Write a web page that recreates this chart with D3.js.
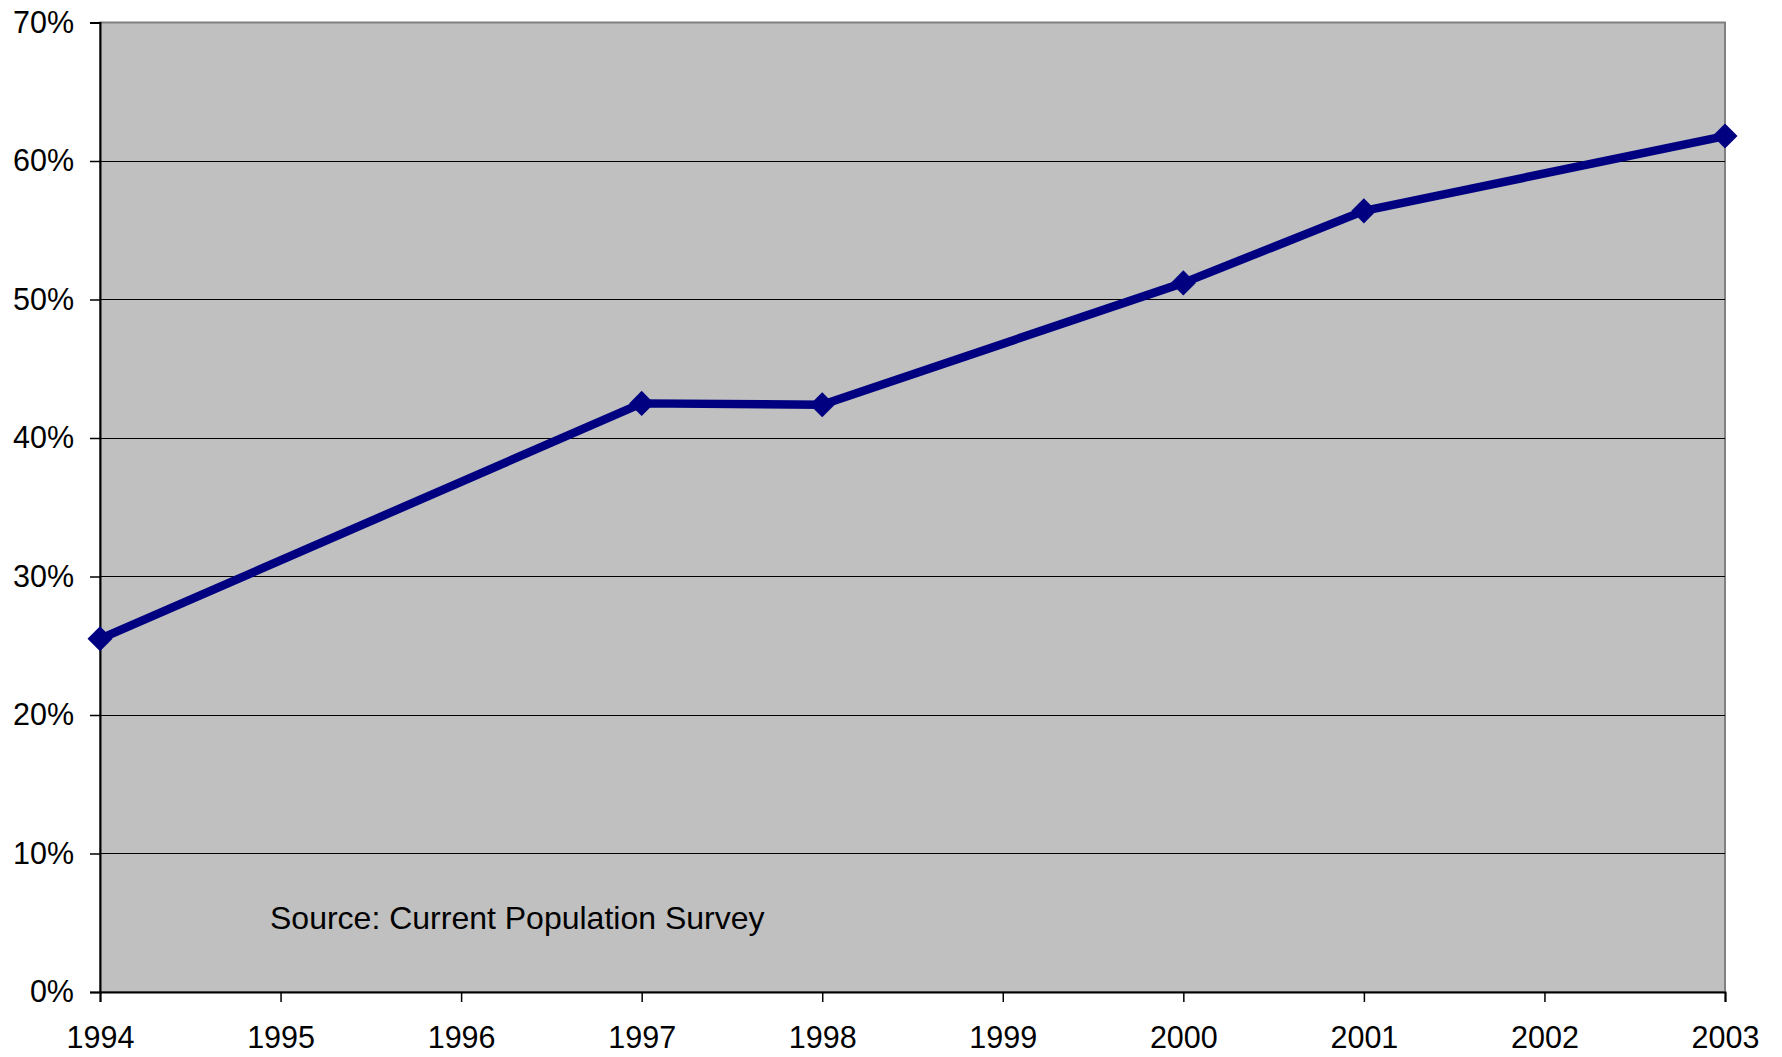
<!DOCTYPE html>
<html>
<head>
<meta charset="utf-8">
<script src="https://cdn.jsdelivr.net/npm/d3@7"></script>
<style>
  body { margin: 0; background: #fff; }
  text { font-family: "Liberation Sans", Arial, sans-serif; fill: #000; }
</style>
</head>
<body>
<script>
var years = [1994, 1997, 1998, 2000, 2001, 2003];
var shares = [0.255, 0.425, 0.424, 0.512, 0.564, 0.618];
var xTicks = [1994, 1995, 1996, 1997, 1998, 1999, 2000, 2001, 2002, 2003];
var yTicks = [0, 0.1, 0.2, 0.3, 0.4, 0.5, 0.6, 0.7];
var note = 'Source: Current Population Survey';

var w = 1782,
	h = 1057,
	plotLeft = 100,
	plotRight = 1725,
	plotTop = 22.5,
	plotBottom = 992,
	fontSize = '30.5px';

var svg = d3.select('body')
	.append('svg')
	.attr('width', w)
	.attr('height', h);

var xScale = d3.scaleLinear()
	.domain([1994, 2003])
	.range([plotLeft, plotRight]);

var yScale = d3.scaleLinear()
	.domain([0, 0.7])
	.range([plotBottom, plotTop]);

// plot area
svg.append('rect')
	.attr('x', plotLeft)
	.attr('y', plotTop)
	.attr('width', plotRight - plotLeft)
	.attr('height', plotBottom - plotTop)
	.attr('fill', '#c0c0c0')
	.attr('stroke', '#808080')
	.attr('stroke-width', 2);

// gridlines
svg.selectAll('line.grid')
	.data(yTicks.slice(1, -1))
	.enter()
	.append('line')
	.attr('class', 'grid')
	.attr('x1', plotLeft)
	.attr('x2', plotRight)
	.attr('y1', function(d) { return Math.round(yScale(d)) + 0.5; })
	.attr('y2', function(d) { return Math.round(yScale(d)) + 0.5; })
	.attr('stroke', '#000')
	.attr('stroke-width', 1);

var yAxis = d3.axisLeft(yScale)
	.tickValues(yTicks)
	.tickFormat(d3.format('.0%'))
	.tickSize(10)
	.tickPadding(16);

var gy = svg.append('g')
	.attr('transform', 'translate(' + plotLeft + ',0)')
	.call(yAxis);
gy.select('.domain').attr('stroke', '#000').attr('stroke-width', 2);
gy.selectAll('.tick line').attr('stroke', '#000').attr('stroke-width', 1.5);
gy.selectAll('text')
	.style('font-size', fontSize)
	.style('font-family', '"Liberation Sans", Arial, sans-serif')
	.attr('fill', '#000');

var xAxis = d3.axisBottom(xScale)
	.tickValues(xTicks)
	.tickFormat(d3.format('d'))
	.tickSize(10)
	.tickPadding(24);

var gx = svg.append('g')
	.attr('transform', 'translate(0,' + plotBottom + ')')
	.call(xAxis);
gx.select('.domain').attr('stroke', '#000').attr('stroke-width', 2);
gx.selectAll('.tick line').attr('stroke', '#000').attr('stroke-width', 1.5);
gx.selectAll('text')
	.style('font-size', fontSize)
	.style('font-family', '"Liberation Sans", Arial, sans-serif')
	.attr('fill', '#000');

var points = years.map(function(y, i) { return [y, shares[i]]; });

var line = d3.line()
	.x(function(d) { return xScale(d[0]); })
	.y(function(d) { return yScale(d[1]); });

svg.append('path')
	.datum(points)
	.attr('d', line)
	.attr('fill', 'none')
	.attr('stroke', '#000080')
	.attr('stroke-width', 8.5)
	.attr('stroke-linejoin', 'round');

svg.selectAll('path.marker')
	.data(points)
	.enter()
	.append('path')
	.attr('class', 'marker')
	.attr('d', d3.symbol().type(d3.symbolDiamond2).size(400))
	.attr('transform', function(d) {
		return 'translate(' + xScale(d[0]) + ',' + yScale(d[1]) + ')';
	})
	.attr('fill', '#000080');

svg.append('text')
	.attr('x', 270)
	.attr('y', 929)
	.style('font-size', '32px')
	.text(note);
</script>
</body>
</html>
